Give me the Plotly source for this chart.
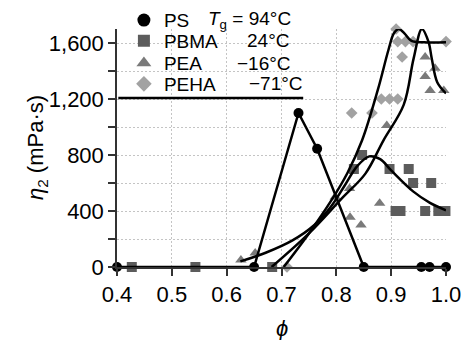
import plotly.graph_objects as go

# ---------------- data ----------------
ps_x = [0.40, 0.65, 0.731, 0.765, 0.85, 0.955, 0.97, 1.0]
ps_y = [0, 0, 1100, 845, 0, 0, 0, 0]

pbma_x = [0.427, 0.543, 0.683, 0.832, 0.847, 0.897, 0.932, 0.94, 0.973, 0.908, 0.917, 0.962, 0.986, 0.999]
pbma_y = [0, 0, 0, 700, 800, 700, 700, 600, 600, 400, 400, 400, 400, 400]

pea_x = [0.626, 0.652, 0.798, 0.824, 0.825, 0.845, 0.879, 0.892, 0.965, 0.962, 0.980, 0.962, 0.971, 0.996]
pea_y = [50, 100, 500, 560, 355, 300, 455, 1010, 1710, 1500, 1420, 1360, 1260, 1260]

peha_x = [0.71, 0.828, 0.865, 0.882, 0.897, 0.912, 0.909, 0.912, 0.926, 0.94, 0.92, 1.0]
peha_y = [0, 1100, 1100, 1200, 1200, 1200, 1700, 1610, 1610, 1610, 1500, 1610]

# fitted curves
fit_pbma_x = [0.625, 0.67, 0.72, 0.76, 0.79, 0.815, 0.838, 0.86, 0.88, 0.90, 0.94, 0.97, 1.0]
fit_pbma_y = [40, 100, 190, 300, 430, 580, 720, 790, 770, 690, 540, 460, 405]

fit_peha_x = [0.704, 0.75, 0.79, 0.82, 0.847, 0.876, 0.895, 0.905, 0.914, 0.925, 0.937, 0.96, 1.0]
fit_peha_y = [0, 240, 470, 670, 905, 1270, 1550, 1670, 1700, 1665, 1615, 1605, 1605]

fit_pea_x = [0.682, 0.75, 0.81, 0.853, 0.886, 0.923, 0.941, 0.956, 0.968, 0.974, 0.984, 1.0]
fit_pea_y = [0, 240, 490, 667, 905, 1160, 1490, 1700, 1610, 1490, 1320, 1240]

names = ["PS", "PBMA", "PEA", "PEHA"]
tg_labels = ["<i>T</i><sub>g</sub> = 94°C", "24°C", "\u221216°C", "\u221271°C"]

y_ticks = [0, 400, 800, 1200, 1600]
x_ticks = [0.4, 0.5, 0.6, 0.7, 0.8, 0.9, 1.0]

# ---------------- style ----------------
FONT = "Liberation Sans, Arial, sans-serif"
C_PS, C_PBMA, C_PEA, C_PEHA = "#000000", "#5c5c5c", "#7a7a7a", "#a2a2a2"

fig = go.Figure()

fig.add_trace(go.Scatter(x=pbma_x, y=pbma_y, mode="markers", showlegend=False, cliponaxis=False,
                         marker=dict(symbol="square", size=10, color=C_PBMA)))
fig.add_trace(go.Scatter(x=pea_x, y=pea_y, mode="markers", showlegend=False, cliponaxis=False,
                         marker=dict(symbol="triangle-up", size=10, color=C_PEA)))
fig.add_trace(go.Scatter(x=peha_x, y=peha_y, mode="markers", showlegend=False, cliponaxis=False,
                         marker=dict(symbol="diamond", size=9, color=C_PEHA)))

for fx, fy in [(fit_pbma_x, fit_pbma_y), (fit_peha_x, fit_peha_y), (fit_pea_x, fit_pea_y)]:
    fig.add_trace(go.Scatter(x=fx, y=fy, mode="lines", showlegend=False,
                             line=dict(color="black", width=2.5, shape="spline", smoothing=1.0)))

fig.add_trace(go.Scatter(x=ps_x, y=ps_y, mode="lines+markers", showlegend=False, cliponaxis=False,
                         line=dict(color="black", width=2.5),
                         marker=dict(symbol="circle", size=10, color=C_PS)))

# legend entries (separate legends for exact row positions)
leg_syms = ["circle", "square", "triangle-up", "diamond"]
leg_cols = [C_PS, C_PBMA, C_PEA, C_PEHA]
leg_sizes = [13, 12, 13, 12]
leg_ids = ["legend", "legend2", "legend3", "legend4"]
row_y = [1.037, 0.95, 0.857, 0.769]
for i in range(4):
    fig.add_trace(go.Scatter(x=[None], y=[None], mode="markers", name=names[i], legend=leg_ids[i],
                             marker=dict(symbol=leg_syms[i], size=leg_sizes[i], color=leg_cols[i])))

leg_common = dict(x=0.021, xanchor="left", yanchor="middle", bgcolor="rgba(0,0,0,0)",
                  font=dict(family=FONT, size=19, color="black"), itemsizing="trace",
                  borderwidth=0)
layout_legends = {}
for i in range(4):
    layout_legends[leg_ids[i]] = dict(leg_common, y=row_y[i])

# Tg annotations
tg_x = [0.27, 0.389, 0.36, 0.396]
annotations = []
for i in range(4):
    annotations.append(dict(x=tg_x[i], y=row_y[i], xref="paper", yref="paper", text=tg_labels[i],
                            showarrow=False, xanchor="left", yanchor="middle",
                            font=dict(family=FONT, size=19, color="black")))
annotations.append(dict(x=-0.243, y=0.5, xref="paper", yref="paper",
                        text="<i>η</i><sub>2</sub> (mPa·s)", textangle=-90, showarrow=False,
                        xanchor="center", yanchor="middle",
                        font=dict(family=FONT, size=22, color="black")))
annotations.append(dict(x=0.5, y=-0.26, xref="paper", yref="paper", text="<i>\u03d5</i>",
                        showarrow=False, xanchor="center", yanchor="middle",
                        font=dict(family=FONT, size=22, color="black")))

shapes = [
    dict(type="rect", xref="paper", yref="paper", x0=0.004, x1=0.566, y0=0.71, y1=1.0,
         fillcolor="white", line=dict(width=0), layer="between"),
    dict(type="line", xref="paper", yref="paper", x0=0.004, x1=0.566, y0=0.71, y1=0.71,
         line=dict(color="black", width=2.5), layer="above"),
]

grid = dict(gridcolor="#c4c4c4", gridwidth=1, griddash="2px,2px")

fig.update_layout(
    width=467, height=340,
    margin=dict(l=117, r=21, t=29, b=73, autoexpand=False),
    plot_bgcolor="white", paper_bgcolor="white",
    font=dict(family=FONT, size=22, color="black"),
    annotations=annotations, shapes=shapes,
    xaxis=dict(range=[0.4, 1.0], tickvals=x_ticks, tickformat=".1f", ticks="outside", ticklen=7,
               tickwidth=1.5, tickcolor="#333", showline=True, linecolor="#333", linewidth=1.5,
               zeroline=False, showgrid=True, **grid, tickfont=dict(size=22)),
    yaxis=dict(range=[0, 1700], tickvals=y_ticks, tickformat=",d", ticks="outside", ticklen=7,
               tickwidth=1.5, tickcolor="#333", showline=True, linecolor="#333", linewidth=1.5,
               zeroline=False, showgrid=True, **grid, tickfont=dict(size=22),
               minor=dict(dtick=200, tick0=0, ticks="outside", ticklen=7, tickwidth=1.5,
                          tickcolor="#333", showgrid=True, gridcolor="#c4c4c4", griddash="2px,2px")),
    **layout_legends,
)

fig.write_html("out.html", config={"displayModeBar": False},
               post_script="document.body.style.margin='0';")
